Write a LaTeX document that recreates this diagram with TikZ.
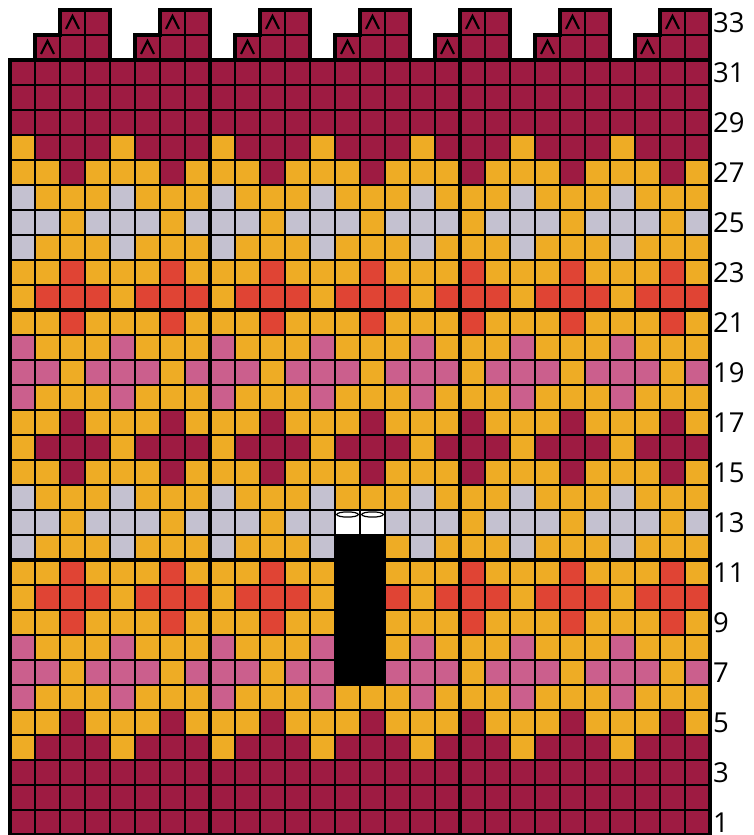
\documentclass[tikz,border=0pt]{standalone}
\usepackage{fontspec}
\setmainfont{Open Sans}
\definecolor{cM}{HTML}{9E1B42}
\definecolor{cY}{HTML}{EEAC25}
\definecolor{cL}{HTML}{C4C1D0}
\definecolor{cR}{HTML}{E04434}
\definecolor{cP}{HTML}{CB5F8D}
\begin{document}
\begin{tikzpicture}[x=1pt,y=1pt,
  cell/.style={draw=black,line width=1.1pt},
  heavy/.style={draw=black,line width=3.2pt},
  caret/.style={draw=black,line width=2.2pt,miter limit=10},
  loopmark/.style={draw=black,line width=1.2pt},
  rownum/.style={anchor=west,inner sep=0pt,font=\fontsize{27.5}{30}\selectfont}]
\useasboundingbox (0,0) rectangle (753,835);
% main body, period of 4 columns
\foreach \r/\a/\b/\c/\d in {
  1/cM/cM/cM/cM, 2/cM/cM/cM/cM, 3/cM/cM/cM/cM, 4/cY/cM/cM/cM,
  5/cY/cY/cM/cY, 6/cP/cY/cY/cY, 7/cP/cP/cY/cP, 8/cP/cY/cY/cY,
  9/cY/cY/cR/cY, 10/cY/cR/cR/cR, 11/cY/cY/cR/cY, 12/cL/cY/cY/cY,
  13/cL/cL/cY/cL, 14/cL/cY/cY/cY, 15/cY/cY/cM/cY, 16/cY/cM/cM/cM,
  17/cY/cY/cM/cY, 18/cP/cY/cY/cY, 19/cP/cP/cY/cP, 20/cP/cY/cY/cY,
  21/cY/cY/cR/cY, 22/cY/cR/cR/cR, 23/cY/cY/cR/cY, 24/cL/cY/cY/cY,
  25/cL/cL/cY/cL, 26/cL/cY/cY/cY, 27/cY/cY/cM/cY, 28/cY/cM/cM/cM,
  29/cM/cM/cM/cM, 30/cM/cM/cM/cM, 31/cM/cM/cM/cM}{
  \foreach \k in {0,...,6}{
    \pgfmathsetmacro\xx{10+100*\k}
    \pgfmathsetmacro\yy{25*(\r-1)}
    \path[cell,fill=\a] (\xx,\yy) rectangle ++(25,25);
    \path[cell,fill=\b] (\xx+25,\yy) rectangle ++(25,25);
    \path[cell,fill=\c] (\xx+50,\yy) rectangle ++(25,25);
    \path[cell,fill=\d] (\xx+75,\yy) rectangle ++(25,25);
  }
}
% decrease tabs (rows 32 and 33)
\foreach \k in {0,...,6}{
  \pgfmathsetmacro\xx{35+100*\k}
  \path[cell,fill=cM] (\xx,775) rectangle ++(25,25);
  \path[cell,fill=cM] (\xx+25,775) rectangle ++(25,25);
  \path[cell,fill=cM] (\xx+50,775) rectangle ++(25,25);
  \path[cell,fill=cM] (\xx+25,800) rectangle ++(25,25);
  \path[cell,fill=cM] (\xx+50,800) rectangle ++(25,25);
  \draw[caret] (\xx+6,781) -- (\xx+12.5,794) -- (\xx+19,781);
  \draw[caret] (\xx+31,806) -- (\xx+37.5,819) -- (\xx+44,806);
}
% thumb opening
\path[cell,fill=white] (335,300) rectangle ++(25,25);
\path[cell,fill=white] (360,300) rectangle ++(25,25);
\draw[loopmark] (347.5,320.5) ellipse [x radius=10.8,y radius=2.6];
\draw[loopmark] (372.5,320.5) ellipse [x radius=10.8,y radius=2.6];
\fill[black] (335,150) rectangle (385,300);
% heavy lines
\draw[heavy] (10,275) -- (710,275);
\draw[heavy] (10,525) -- (710,525);
\draw[heavy] (10,775) -- (710,775);
\draw[heavy] (210,0) -- (210,825);
\draw[heavy] (460,0) -- (460,825);
\draw[heavy,line join=miter] (710,0) -- (10,0) -- (10,775)
  \foreach \k in {0,...,6}{
    -- ({35+100*\k},775) -- ({35+100*\k},800) -- ({60+100*\k},800)
    -- ({60+100*\k},825) -- ({110+100*\k},825) -- ({110+100*\k},775)}
  -- (710,0);
% row numbers
\foreach \r in {1,3,...,33}{
  \node[rownum] (n\r) at (713,{25*(\r-1)+12.5}) {\r};
}
\end{tikzpicture}
\end{document}
